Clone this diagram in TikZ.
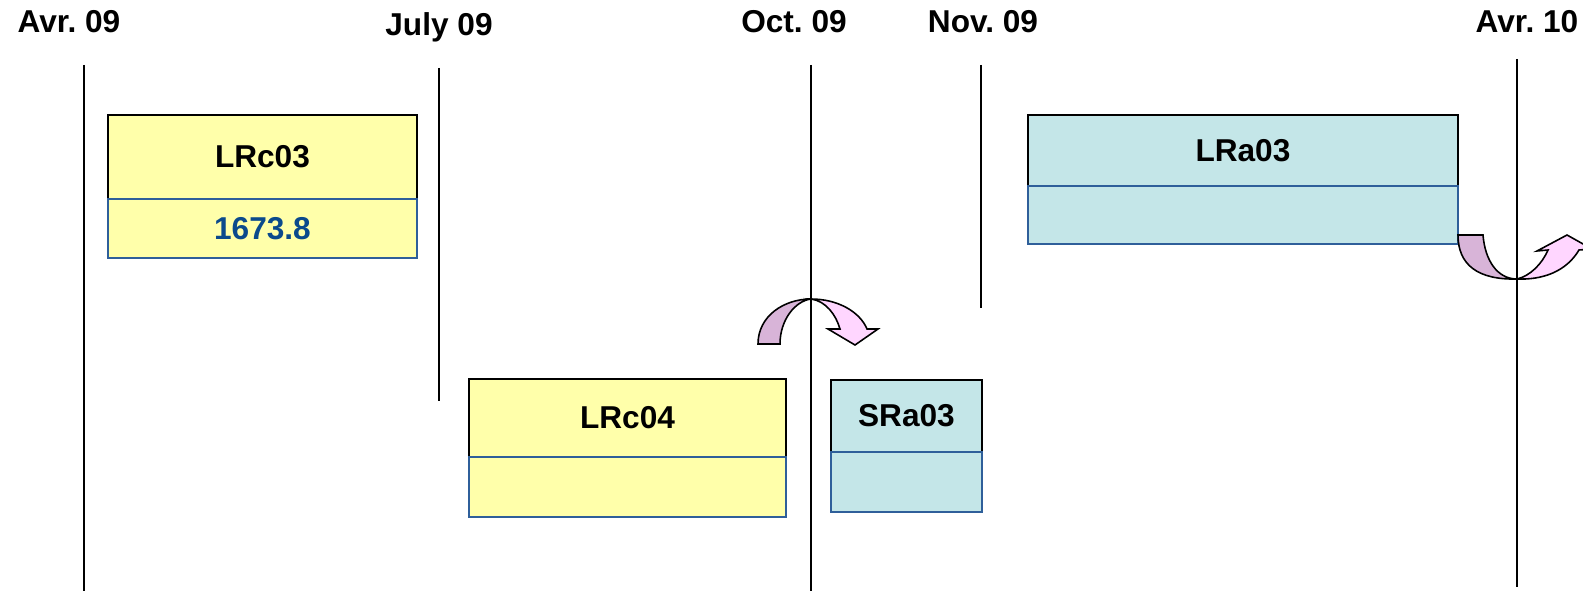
\documentclass[tikz,border=0pt]{standalone}
\usepackage{fontspec}
\setmainfont{Liberation Sans}
\usetikzlibrary{positioning}
\definecolor{boxyellow}{HTML}{FFFFAA}
\definecolor{boxcyan}{HTML}{C4E6E8}
\definecolor{valblue}{HTML}{0B4A8C}
\definecolor{edgeblue}{HTML}{2F5F9A}
\definecolor{arcpurple}{HTML}{D8B4D8}
\definecolor{arcpink}{HTML}{FFD6FF}
\frenchspacing

\begin{document}
\begin{tikzpicture}[x=0.02cm,y=-0.02cm]
\tikzstyle{every node}+=[inner sep=0pt, outer sep=0pt, font=\bfseries\fontsize{18}{20}\selectfont]
\tikzstyle{head}=[draw=black, line width=0.9pt, anchor=north west]
\tikzset{foot/.style={draw=edgeblue, line width=0.9pt, below=0pt of #1, text=valblue}}
\tikzstyle{bentarrow}=[draw=black, line width=0.9pt]
\useasboundingbox (0,0) rectangle (1583,591);
% time axis
\draw [black, line width=1pt] (84,65) -- (84,591);
\node (avr09) at (69,22) {Avr. 09};
\draw [black, line width=1pt] (439,68) -- (439,401);
\node (jul09) at (439,27) {July 09};
\draw [black, line width=1pt] (811,65) -- (811,591);
\node (oct09) at (794,22) {Oct. 09};
\draw [black, line width=1pt] (981,65) -- (981,308);
\node (nov09) at (983,22) {Nov. 09};
\draw [black, line width=1pt] (1517,59) -- (1517,587);
\node (avr10) at (1527,22) {Avr. 10};
% boxes
\node [head, fill=boxyellow, minimum width=6.18cm, minimum height=1.68cm] (lrc03) at (108,115) {LRc03};
\node [foot=lrc03, fill=boxyellow, minimum width=6.18cm, minimum height=1.18cm] (lrc03v) {1673.8};
\node [head, fill=boxyellow, minimum width=6.34cm, minimum height=1.56cm] (lrc04) at (469,379) {LRc04};
\node [foot=lrc04, fill=boxyellow, minimum width=6.34cm, minimum height=1.2cm] (lrc04v) {};
\node [head, fill=boxcyan, minimum width=3.02cm, minimum height=1.44cm] (sra03) at (831,380) {SRa03};
\node [foot=sra03, fill=boxcyan, minimum width=3.02cm, minimum height=1.2cm] (sra03v) {};
\node [head, fill=boxcyan, minimum width=8.6cm, minimum height=1.42cm] (lra03) at (1028,115) {LRa03};
\node [foot=lra03, fill=boxcyan, minimum width=8.6cm, minimum height=1.16cm] (lra03v) {};
% bent arrows
\draw [bentarrow, fill=arcpurple] (758,344) .. controls (758,316) and (784,299) .. (811,299)
  .. controls (795,301) and (780,320) .. (780,344) -- cycle;
\draw [bentarrow, fill=arcpink] (811,299) .. controls (838,299) and (860,312) .. (867,329)
  -- (878,329) -- (855,345) -- (828,329) -- (840,329)
  .. controls (836,315) and (826,301) .. (811,299) -- cycle;
\draw [bentarrow, fill=arcpurple] (1458,235) -- (1483,235)
  .. controls (1485,260) and (1497,279) .. (1517,279)
  .. controls (1478,280) and (1458,265) .. (1458,235) -- cycle;
\draw [bentarrow, fill=arcpink] (1517,279) .. controls (1530,276) and (1542,264) .. (1548,250)
  -- (1537,251) -- (1567,235) -- (1592,249) -- (1579,250)
  .. controls (1566,272) and (1542,280) .. (1517,279) -- cycle;
\end{tikzpicture}
\end{document}
